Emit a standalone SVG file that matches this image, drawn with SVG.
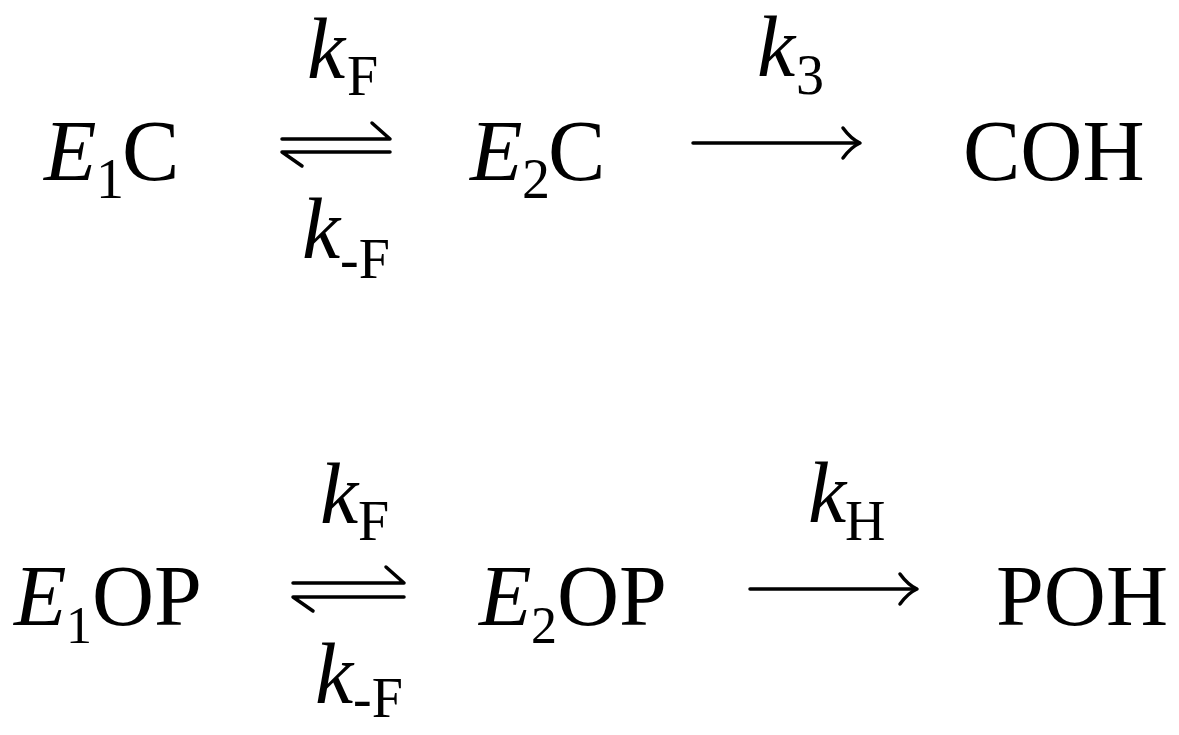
<svg xmlns="http://www.w3.org/2000/svg" width="1179" height="735" viewBox="0 0 1179 735">
<style>
text{font-family:"Liberation Serif","Times New Roman",serif;fill:#000;font-size:86px}
.s{font-size:56px}
.t{font-size:52px}
.i{font-style:italic}
.ln{stroke:#000;stroke-width:3.5;fill:none;stroke-linecap:round;stroke-linejoin:round}
</style>
<rect width="1179" height="735" fill="#fff"/>
<g id="E1C"><text y="180"><tspan class="i" x="44">E</tspan><tspan class="s" x="96" y="198">1</tspan><tspan x="122" y="180">C</tspan></text></g>
<g id="E2C"><text y="180"><tspan class="i" x="470">E</tspan><tspan class="s" x="522" y="198">2</tspan><tspan x="548" y="180">C</tspan></text></g>
<g id="COH"><text x="963" y="180">COH</text></g>
<g id="E1OP"><text y="625"><tspan class="i" x="14">E</tspan><tspan class="t" x="66" y="643">1</tspan><tspan x="92" y="625">OP</tspan></text></g>
<g id="E2OP"><text y="625"><tspan class="i" x="479">E</tspan><tspan class="t" x="531" y="643">2</tspan><tspan x="557" y="625">OP</tspan></text></g>
<g id="POH"><text x="996" y="625">POH</text></g>
<g id="labels">
<text y="78"><tspan class="i" x="307">k</tspan><tspan class="s" x="347" y="95">F</tspan></text>
<text y="258"><tspan class="i" x="302">k</tspan><tspan class="s" x="340" y="278">-F</tspan></text>
<text y="76"><tspan class="i" x="757">k</tspan><tspan class="s" x="796" y="94">3</tspan></text>
<text y="523"><tspan class="i" x="320">k</tspan><tspan class="s" x="358" y="540">F</tspan></text>
<text y="703"><tspan class="i" x="315">k</tspan><tspan class="s" x="353" y="717">-F</tspan></text>
<text y="522"><tspan class="i" x="808">k</tspan><tspan class="s" x="845" y="540">H</tspan></text>
</g>
<g id="connectors">
<path class="ln" d="M282,139 H390 L372,123"/>
<path class="ln" d="M390,152 H282 L302,166"/>
<path class="ln" d="M693,143 H859"/>
<path class="ln" d="M843,128 Q851,139 860,143 Q851,147 843,158"/>
<path class="ln" d="M293,583 H404 L386,567"/>
<path class="ln" d="M404,597 H293 L313,611"/>
<path class="ln" d="M750,589 H916"/>
<path class="ln" d="M900,574 Q908,585 917,589 Q908,593 900,604"/>
</g>
</svg>
